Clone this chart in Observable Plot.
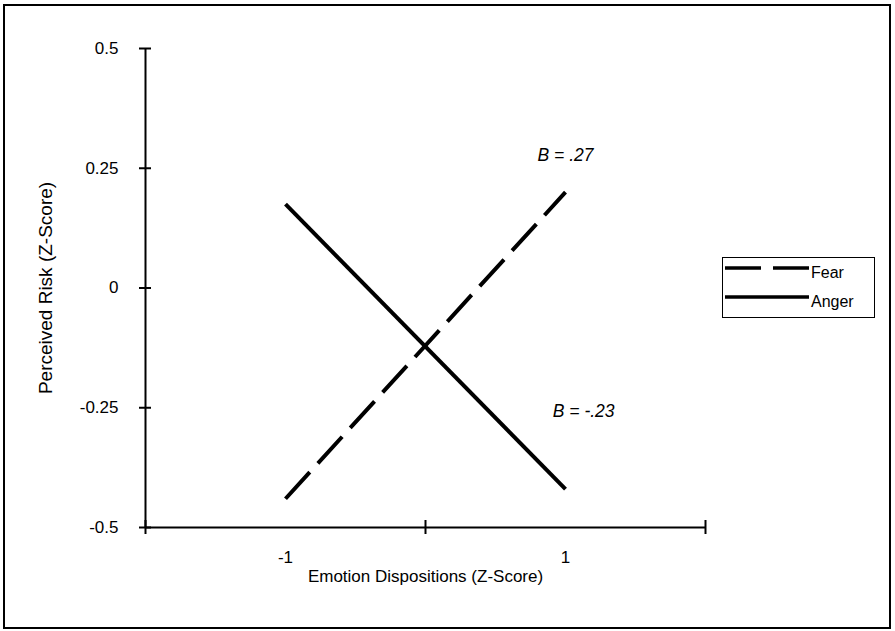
<!DOCTYPE html>
<html>
<head>
<meta charset="utf-8">
<script src="https://cdn.jsdelivr.net/npm/d3@7"></script>
<script src="https://cdn.jsdelivr.net/npm/@observablehq/plot@0.6"></script>
<style>
  html, body { margin: 0; padding: 0; background: #fff; }
  #wrap { position: relative; width: 895px; height: 631px; font-family: "Liberation Sans", Arial, sans-serif; }
  #border { position: absolute; left: 3px; top: 4px; width: 884px; height: 621px; border: 2px solid #000; pointer-events: none; }
  #chart { position: absolute; left: 0; top: 0; }
  #legend { position: absolute; left: 722px; top: 257px; width: 151px; height: 59px; border: 1.5px solid #000; background: #fff; }
  .row { position: absolute; left: 0; height: 28px; display: flex; align-items: center; }
  .row span { font-size: 16px; color: #000; margin-left: 2px; }
</style>
</head>
<body>
<div id="wrap">
  <div id="chart"></div>
  <div id="legend"></div>
  <div id="border"></div>
</div>
<script>
// Data
const xCategories = [-1, 1];
const xTickLabels = ["-1", "1"];
const fearValues = [-0.44, 0.20];
const angerValues = [0.175, -0.42];
const seriesNames = ["Fear", "Anger"];
const yTicks = [-0.5, -0.25, 0, 0.25, 0.5];
const yTickLabels = ["-0.5", "-0.25", "0", "0.25", "0.5"];
const xBoundaryTicks = [-2, 0, 2];
const annotationText = ["B = .27", "B = -.23"];
const annotationX = [1.0, 1.13];
const annotationY = [0.276, -0.258];

const rows = [];
xCategories.forEach((c, i) => {
  rows.push({series: "Fear", x: c, y: fearValues[i]});
  rows.push({series: "Anger", x: c, y: angerValues[i]});
});
const annotations = annotationText.map((t, i) => ({x: annotationX[i], y: annotationY[i], text: t}));

const font = "'Liberation Sans', Arial, sans-serif";

const chart = Plot.plot({
  width: 895,
  height: 631,
  marginLeft: 145,
  marginRight: 190,
  marginTop: 48,
  marginBottom: 104,
  style: {fontFamily: font, fontSize: "16px", color: "#000", background: "transparent"},
  x: {domain: [-2, 2], axis: null},
  y: {domain: [-0.5, 0.5], axis: null},
  marks: [
    // axis lines
    Plot.ruleX([-2], {y1: -0.5, y2: 0.5, stroke: "#000", strokeWidth: 2}),
    Plot.ruleY([-0.5], {x1: -2, x2: 2, stroke: "#000", strokeWidth: 2}),
    // crossing ticks
    Plot.ruleY(yTicks, {x1: -2, x2: -2, insetLeft: -6, insetRight: -6, stroke: "#000", strokeWidth: 2}),
    Plot.ruleX(xBoundaryTicks, {y1: -0.5, y2: -0.5, insetTop: -7, insetBottom: -7, stroke: "#000", strokeWidth: 2}),
    // tick labels
    Plot.axisY(yTicks, {label: null, tickSize: 0, tickPadding: 27, tickFormat: (d) => yTickLabels[yTicks.indexOf(d)], fontSize: 17}),
    Plot.axisX(xCategories, {label: null, tickSize: 0, tickPadding: 23, tickFormat: (d) => xTickLabels[xCategories.indexOf(d)], fontSize: 17}),
    // axis titles
    Plot.text(["Perceived Risk (Z-Score)"], {frameAnchor: "left", textAnchor: "middle", rotate: -90, dx: -100, fontSize: 19}),
    Plot.text(["Emotion Dispositions (Z-Score)"], {frameAnchor: "bottom", textAnchor: "middle", dy: 54, fontSize: 17}),
    // lines
    Plot.line(rows.filter(d => d.series === "Fear"), {x: "x", y: "y", stroke: "#000", strokeWidth: 4, strokeDasharray: "36,12", strokeLinecap: "butt"}),
    Plot.line(rows.filter(d => d.series === "Anger"), {x: "x", y: "y", stroke: "#000", strokeWidth: 4, strokeLinecap: "butt"}),
    // annotations
    Plot.text(annotations, {x: "x", y: "y", text: "text", fontSize: 17.5, fontStyle: "italic"})
  ]
});
document.getElementById("chart").appendChild(chart);

// Legend
const legend = document.getElementById("legend");
seriesNames.forEach((name, i) => {
  const row = document.createElement("div");
  row.className = "row";
  row.style.top = (i === 0 ? 1 : 30) + "px";
  const svgNS = "http://www.w3.org/2000/svg";
  const s = document.createElementNS(svgNS, "svg");
  s.setAttribute("width", "86");
  s.setAttribute("height", "12");
  const l = document.createElementNS(svgNS, "line");
  l.setAttribute("x1", "2"); l.setAttribute("x2", "86");
  l.setAttribute("y1", "4"); l.setAttribute("y2", "4");
  l.setAttribute("stroke", "#000"); l.setAttribute("stroke-width", "3.5");
  if (name === "Fear") l.setAttribute("stroke-dasharray", "36,12");
  s.appendChild(l);
  s.style.alignSelf = "flex-start";
  s.style.marginTop = "5px";
  row.appendChild(s);
  const t = document.createElement("span");
  t.textContent = name;
  row.appendChild(t);
  legend.appendChild(row);
});
</script>
</body>
</html>
